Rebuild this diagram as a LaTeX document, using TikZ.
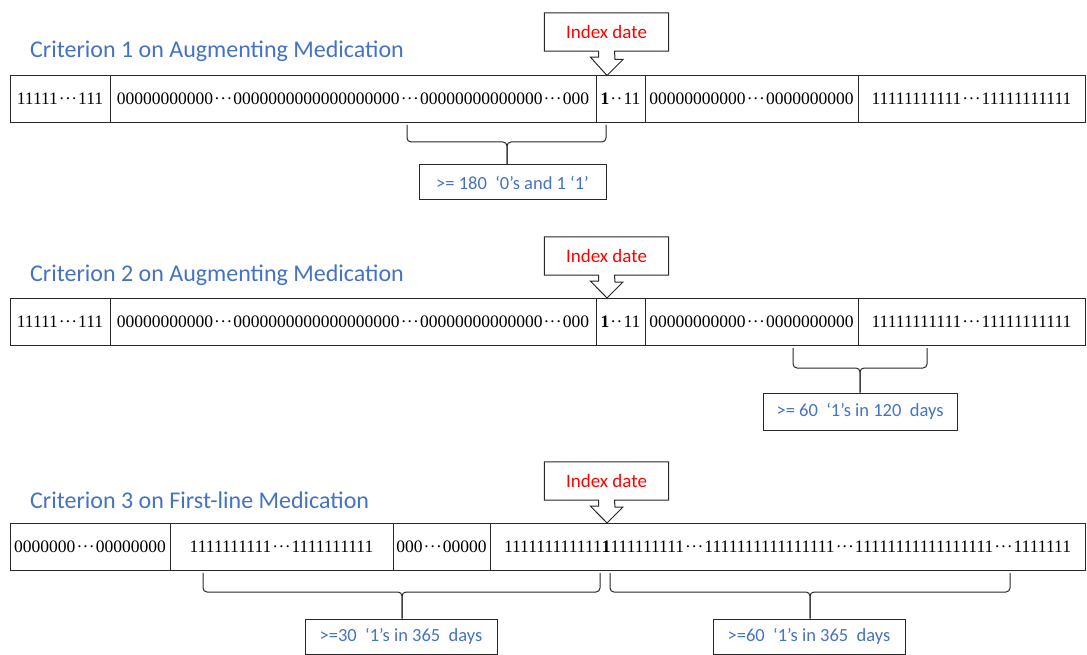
\documentclass[tikz,border=0pt]{standalone}
\usepackage{fontspec}
\setmainfont{Carlito}
\newfontfamily\digitfont{Liberation Serif}
\usetikzlibrary{calc}
\definecolor{critblue}{RGB}{68,114,196}
\definecolor{linegray}{RGB}{40,40,40}
\newcommand{\ddd}{\kern.06em·\kern.02em·\kern.02em·\kern.06em}
\newcommand{\dd}{\kern.06em·\kern.02em·\kern.06em}
\tikzset{
  cell/.style={draw=linegray, line width=1pt, minimum height=47, inner sep=0pt,
    font=\digitfont\fontsize{17.5}{20}\selectfont},
  heading/.style={anchor=west, inner sep=0pt, text=critblue, font=\fontsize{24}{28}\selectfont},
  idxbox/.style={minimum width=124, minimum height=38, inner sep=0pt, text=red,
    font=\fontsize{19}{22}\selectfont},
  callout/.style={draw=linegray, line width=1pt},
  tag/.style={draw=linegray, line width=1pt, inner sep=0pt, text=critblue,
    font=\fontsize{18.5}{22}\selectfont},
  brace/.style={draw=linegray, line width=1pt, rounded corners=4pt}
}
\begin{document}
\begin{tikzpicture}[x=1pt,y=-1pt]
	\useasboundingbox (0,0) rectangle (1087,655);

	% criterion 1
	\node[heading] (h1) at (30,51) {Criterion 1 on Augmenting Medication};
	\node[cell, minimum width=100] (a1) at (60,99) {11111\ddd111};
	\node[cell, minimum width=486] (a2) at (353,99) {00000000000\ddd0000000000000000000\ddd00000000000000\ddd000};
	\node[cell, minimum width=49] (a3) at (620.5,99) {\textbf{1}\dd11};
	\node[cell, minimum width=213] (a4) at (751.5,99) {00000000000\ddd0000000000};
	\node[cell, minimum width=227] (a5) at (971.5,99) {11111111111\ddd11111111111};
	\node[idxbox] (i1) at (606.5,32) {Index date};
	\coordinate (t1) at (607,75.5);
	\draw[callout] ($(i1.south)+(8,0)$) -- (i1.south east) -- (i1.north east) -- (i1.north west)
		-- (i1.south west) -- ($(i1.south)+(-8,0)$) -- ++(0,6) -- ++(-8,0) -- (t1) -- ++(16,-16) -- ++(-8,0) -- cycle;
	\node[tag, minimum width=187, minimum height=35] (l1) at (512.5,182.5) {>= 180~~‘0’s and 1 ‘1’};
	\coordinate (b1l) at (407,125);
	\coordinate (b1r) at (606,125);
	\coordinate (b1m) at (507,142);
	\draw[brace] (b1l) |- (b1m) -- (b1m |- l1.north);
	\draw[brace] (b1r) |- (b1m) -- (b1m |- l1.north);

	% criterion 2
	\node[heading] (h2) at (30,275) {Criterion 2 on Augmenting Medication};
	\node[cell, minimum width=100] (c1) at (60,321.5) {11111\ddd111};
	\node[cell, minimum width=486] (c2) at (353,321.5) {00000000000\ddd0000000000000000000\ddd00000000000000\ddd000};
	\node[cell, minimum width=49] (c3) at (620.5,321.5) {\textbf{1}\dd11};
	\node[cell, minimum width=213] (c4) at (751.5,321.5) {00000000000\ddd0000000000};
	\node[cell, minimum width=227] (c5) at (971.5,321.5) {11111111111\ddd11111111111};
	\node[idxbox] (i2) at (606.5,256) {Index date};
	\coordinate (t2) at (607,298);
	\draw[callout] ($(i2.south)+(8,0)$) -- (i2.south east) -- (i2.north east) -- (i2.north west)
		-- (i2.south west) -- ($(i2.south)+(-8,0)$) -- ++(0,6) -- ++(-8,0) -- (t2) -- ++(16,-16) -- ++(-8,0) -- cycle;
	\node[tag, minimum width=194, minimum height=37] (l2) at (860,411.5) {>= 60~~‘1’s in 120~~days};
	\coordinate (b2l) at (793,348);
	\coordinate (b2r) at (927,348);
	\coordinate (b2m) at (860,368);
	\draw[brace] (b2l) |- (b2m) -- (b2m |- l2.north);
	\draw[brace] (b2r) |- (b2m) -- (b2m |- l2.north);

	% criterion 3
	\node[heading] (h3) at (30,500) {Criterion 3 on First-line Medication};
	\node[cell, minimum width=160] (e1) at (90,546.5) {0000000\ddd00000000};
	\node[cell, minimum width=223] (e2) at (281.5,546.5) {1111111111\ddd1111111111};
	\node[cell, minimum width=97] (e3) at (441.5,546.5) {000\ddd00000};
	\node[cell, minimum width=595] (e4) at (787.5,546.5) {111111111111\textbf{1}111111111\ddd1111111111111111\ddd11111111111111111\ddd1111111};
	\node[idxbox] (i3) at (606.5,481) {Index date};
	\coordinate (t3) at (607,523);
	\draw[callout] ($(i3.south)+(8,0)$) -- (i3.south east) -- (i3.north east) -- (i3.north west)
		-- (i3.south west) -- ($(i3.south)+(-8,0)$) -- ++(0,6) -- ++(-8,0) -- (t3) -- ++(16,-16) -- ++(-8,0) -- cycle;
	\node[tag, minimum width=192, minimum height=35] (l3) at (401,636.5) {>=30~~‘1’s in 365~~days};
	\node[tag, minimum width=192, minimum height=35] (l4) at (809,636.5) {>=60~~‘1’s in 365~~days};
	\coordinate (b3l) at (203,573);
	\coordinate (b3r) at (600,573);
	\coordinate (b3m) at (402,592);
	\draw[brace] (b3l) |- (b3m) -- (b3m |- l3.north);
	\draw[brace] (b3r) |- (b3m) -- (b3m |- l3.north);
	\coordinate (b4l) at (610,573);
	\coordinate (b4r) at (1010,573);
	\coordinate (b4m) at (810,592);
	\draw[brace] (b4l) |- (b4m) -- (b4m |- l4.north);
	\draw[brace] (b4r) |- (b4m) -- (b4m |- l4.north);
\end{tikzpicture}
\end{document}
